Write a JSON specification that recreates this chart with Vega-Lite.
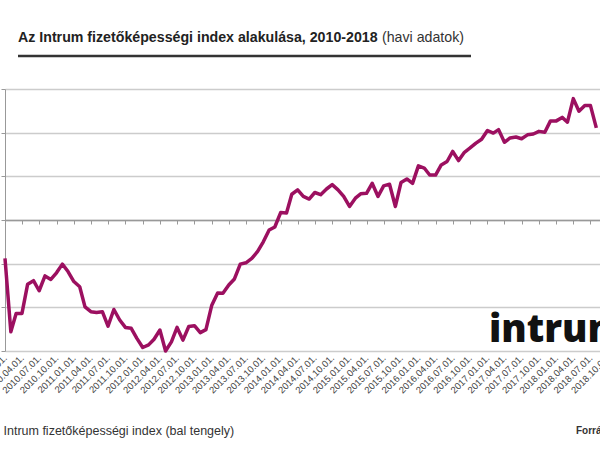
{
  "$schema": "https://vega.github.io/schema/vega-lite/v6.json",
  "autosize": "none",
  "width": 620,
  "height": 262,
  "padding": {"left": 5, "top": 89, "right": 0, "bottom": 109},
  "background": "white",
  "data": {
    "values": [
      {"date": "2010-01-01", "index": -8.8}, {"date": "2010-02-01", "index": -25.6}, {"date": "2010-03-01", "index": -21.4}, {"date": "2010-04-01", "index": -21.4},
      {"date": "2010-05-01", "index": -14.7}, {"date": "2010-06-01", "index": -13.9}, {"date": "2010-07-01", "index": -16.2}, {"date": "2010-08-01", "index": -12.8},
      {"date": "2010-09-01", "index": -13.6}, {"date": "2010-10-01", "index": -12.1}, {"date": "2010-11-01", "index": -10.1}, {"date": "2010-12-01", "index": -11.8},
      {"date": "2011-01-01", "index": -14.1}, {"date": "2011-02-01", "index": -15.3}, {"date": "2011-03-01", "index": -19.9}, {"date": "2011-04-01", "index": -21.0},
      {"date": "2011-05-01", "index": -21.2}, {"date": "2011-06-01", "index": -21.0}, {"date": "2011-07-01", "index": -24.3}, {"date": "2011-08-01", "index": -20.5},
      {"date": "2011-09-01", "index": -22.9}, {"date": "2011-10-01", "index": -24.6}, {"date": "2011-11-01", "index": -24.8}, {"date": "2011-12-01", "index": -27.1},
      {"date": "2012-01-01", "index": -29.2}, {"date": "2012-02-01", "index": -28.6}, {"date": "2012-03-01", "index": -27.3}, {"date": "2012-04-01", "index": -25.2},
      {"date": "2012-05-01", "index": -30.0}, {"date": "2012-06-01", "index": -27.9}, {"date": "2012-07-01", "index": -24.6}, {"date": "2012-08-01", "index": -27.5},
      {"date": "2012-09-01", "index": -24.4}, {"date": "2012-10-01", "index": -24.2}, {"date": "2012-11-01", "index": -25.8}, {"date": "2012-12-01", "index": -25.1},
      {"date": "2013-01-01", "index": -19.5}, {"date": "2013-02-01", "index": -16.7}, {"date": "2013-03-01", "index": -16.8}, {"date": "2013-04-01", "index": -14.9},
      {"date": "2013-05-01", "index": -13.5}, {"date": "2013-06-01", "index": -10.1}, {"date": "2013-07-01", "index": -9.8}, {"date": "2013-08-01", "index": -8.8},
      {"date": "2013-09-01", "index": -7.2}, {"date": "2013-10-01", "index": -5.0}, {"date": "2013-11-01", "index": -2.3}, {"date": "2013-12-01", "index": -1.6},
      {"date": "2014-01-01", "index": 1.7}, {"date": "2014-02-01", "index": 1.6}, {"date": "2014-03-01", "index": 5.9}, {"date": "2014-04-01", "index": 6.9},
      {"date": "2014-05-01", "index": 5.4}, {"date": "2014-06-01", "index": 4.8}, {"date": "2014-07-01", "index": 6.3}, {"date": "2014-08-01", "index": 5.8},
      {"date": "2014-09-01", "index": 7.1}, {"date": "2014-10-01", "index": 8.1}, {"date": "2014-11-01", "index": 6.9}, {"date": "2014-12-01", "index": 5.4},
      {"date": "2015-01-01", "index": 3.1}, {"date": "2015-02-01", "index": 5.0}, {"date": "2015-03-01", "index": 6.0}, {"date": "2015-04-01", "index": 6.1},
      {"date": "2015-05-01", "index": 8.4}, {"date": "2015-06-01", "index": 5.4}, {"date": "2015-07-01", "index": 7.8}, {"date": "2015-08-01", "index": 8.2},
      {"date": "2015-09-01", "index": 3.1}, {"date": "2015-10-01", "index": 8.6}, {"date": "2015-11-01", "index": 9.4}, {"date": "2015-12-01", "index": 8.4},
      {"date": "2016-01-01", "index": 12.4}, {"date": "2016-02-01", "index": 11.9}, {"date": "2016-03-01", "index": 10.3}, {"date": "2016-04-01", "index": 10.3},
      {"date": "2016-05-01", "index": 12.6}, {"date": "2016-06-01", "index": 13.4}, {"date": "2016-07-01", "index": 15.7}, {"date": "2016-08-01", "index": 13.6},
      {"date": "2016-09-01", "index": 15.5}, {"date": "2016-10-01", "index": 16.5}, {"date": "2016-11-01", "index": 17.6}, {"date": "2016-12-01", "index": 18.5},
      {"date": "2017-01-01", "index": 20.5}, {"date": "2017-02-01", "index": 19.9}, {"date": "2017-03-01", "index": 20.7}, {"date": "2017-04-01", "index": 17.8},
      {"date": "2017-05-01", "index": 18.8}, {"date": "2017-06-01", "index": 19.0}, {"date": "2017-07-01", "index": 18.6}, {"date": "2017-08-01", "index": 19.5},
      {"date": "2017-09-01", "index": 19.7}, {"date": "2017-10-01", "index": 20.3}, {"date": "2017-11-01", "index": 20.1}, {"date": "2017-12-01", "index": 22.7},
      {"date": "2018-01-01", "index": 22.7}, {"date": "2018-02-01", "index": 23.5}, {"date": "2018-03-01", "index": 22.4}, {"date": "2018-04-01", "index": 27.8},
      {"date": "2018-05-01", "index": 24.9}, {"date": "2018-06-01", "index": 26.2}, {"date": "2018-07-01", "index": 26.2}, {"date": "2018-08-01", "index": 21.1}
    ]
  },
  "layer": [
    {
      "mark": {"type": "point", "opacity": 0},
      "encoding": {
        "x": {
          "field": "date", "type": "temporal",
          "scale": {"type": "utc", "nice": false, "domain": [{"year": 2010, "month": 1, "date": 1, "utc": true}, {"year": 2018, "month": 12, "date": 31, "utc": true}]},
          "axis": {"orient": "bottom", "offset": -131, "labels": false, "ticks": true, "tickSize": 4, "tickColor": "#999999", "tickWidth": 1, "domain": true, "domainColor": "#999999", "domainWidth": 1.5, "grid": false, "title": null, "tickCount": {"interval": "month", "step": 3}}
        },
        "y": {"field": "index", "type": "quantitative"}
      }
    },
    {
      "mark": {"type": "line", "strokeWidth": 3.5, "strokeJoin": "round", "interpolate": "linear"},
      "encoding": {
        "x": {
          "field": "date", "type": "temporal",
          "axis": {"orient": "bottom", "format": "%Y.%m.%d.", "labelAngle": -45, "labelAlign": "right", "labelBaseline": "middle", "labelFont": "Liberation Sans", "labelFontSize": 9.5, "labelColor": "#444444", "labelPadding": 5, "labelOverlap": false, "labelFlush": false, "ticks": false, "domain": false, "grid": false, "title": null, "tickCount": {"interval": "month", "step": 3}}
        },
        "y": {
          "field": "index", "type": "quantitative",
          "scale": {"domain": [-30, 30], "nice": false, "zero": false},
          "axis": {"values": [-30, -20, -10, 0, 10, 20, 30], "grid": true, "gridColor": "#cccccc", "gridWidth": 1.5, "labels": false, "ticks": true, "tickSize": 4, "tickColor": "#999999", "domain": true, "domainColor": "#999999", "title": null}
        },
        "color": {
          "datum": "Intrum fizetőképességi index (bal tengely)",
          "scale": {"range": ["#9c1060"]},
          "legend": {"orient": "none", "legendX": -14, "legendY": 336, "title": null, "symbolSize": 0, "symbolOpacity": 0, "symbolStrokeWidth": 0, "labelOffset": 0, "padding": 0, "labelFont": "Liberation Sans", "labelFontSize": 12.5, "labelColor": "#333333", "labelLimit": 400}
        }
      }
    },
    {
      "data": {"values": [{"k": "underline"}]},
      "mark": {"type": "rule", "color": "#333333", "strokeWidth": 2.5},
      "encoding": {"x": {"value": 13}, "x2": {"value": 466}, "y": {"value": -33}}
    },
    {
      "data": {"values": [{"t": "Az Intrum fizetőképességi index alakulása, 2010-2018"}]},
      "mark": {"type": "text", "align": "left", "baseline": "alphabetic", "font": "Liberation Sans", "fontSize": 14.2, "fontWeight": "bold", "color": "#222222"},
      "encoding": {"text": {"field": "t"}, "x": {"value": 13}, "y": {"value": -47}}
    },
    {
      "data": {"values": [{"t": "(havi adatok)"}]},
      "mark": {"type": "text", "align": "left", "baseline": "alphabetic", "font": "Liberation Sans", "fontSize": 14.2, "color": "#333333"},
      "encoding": {"text": {"field": "t"}, "x": {"value": 377}, "y": {"value": -47}}
    },
    {
      "data": {"values": [{"t": "Forrás: Intrum"}]},
      "mark": {"type": "text", "align": "left", "baseline": "alphabetic", "font": "Liberation Sans", "fontSize": 10, "fontWeight": "bold", "color": "#333333"},
      "encoding": {"text": {"field": "t"}, "x": {"value": 571}, "y": {"value": 345}}
    },
    {
      "data": {"values": [{"t": "intrum"}]},
      "mark": {"type": "text", "align": "left", "baseline": "alphabetic", "font": "Open Sans", "fontSize": 38, "fontWeight": 800, "color": "#111111"},
      "encoding": {"text": {"field": "t"}, "x": {"value": 484}, "y": {"value": 253}}
    }
  ],
  "resolve": {"axis": {"x": "independent"}},
  "config": {"view": {"stroke": null}}
}
